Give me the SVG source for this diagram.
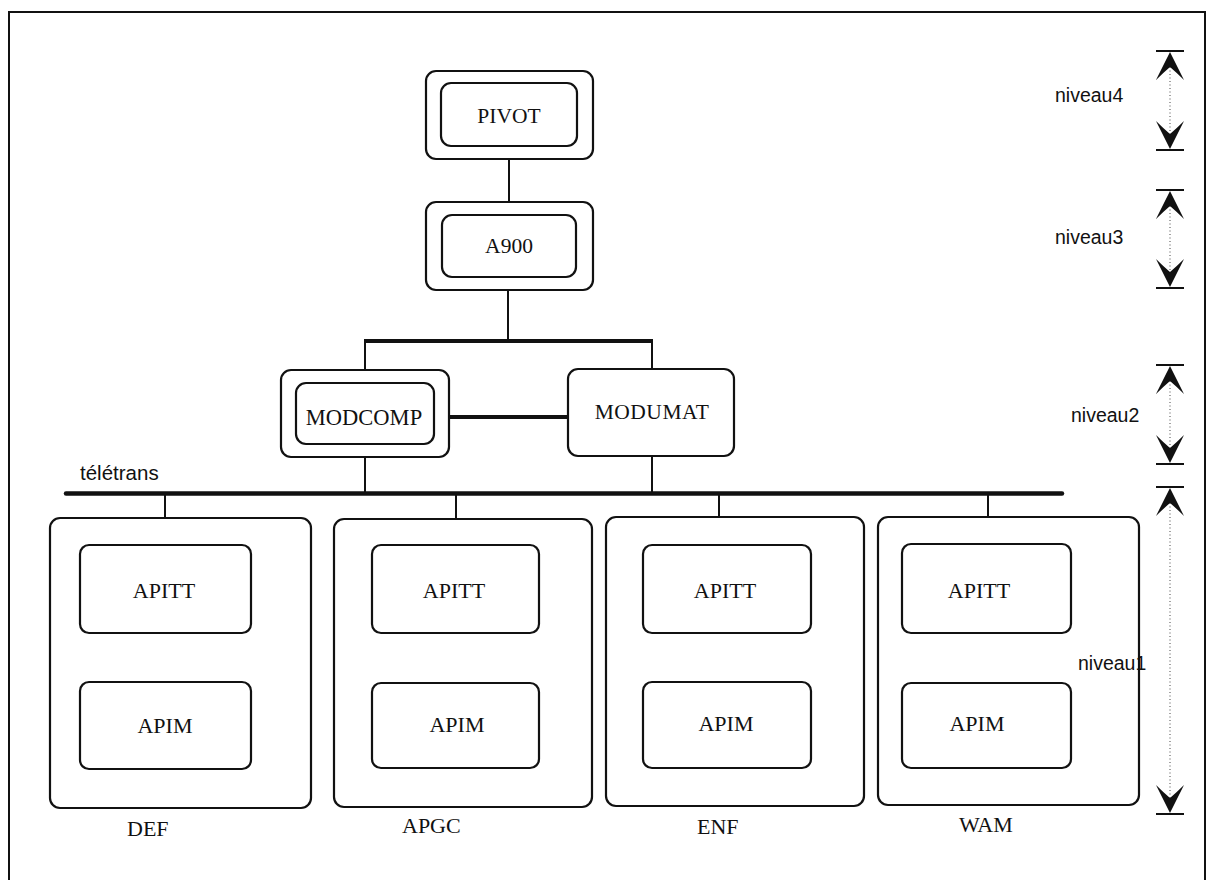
<svg xmlns="http://www.w3.org/2000/svg" xmlns:xlink="http://www.w3.org/1999/xlink" width="1218" height="880" viewBox="0 0 1218 880">
  <style>
    .box { fill: #fff; stroke: #111; stroke-width: 2.2; }
    .wire { fill: none; stroke: #111; stroke-width: 2; }
    .thick { fill: none; stroke: #111; stroke-width: 4; }
    .bus { fill: none; stroke: #111; stroke-width: 4.5; stroke-linecap: round; }
    .dots { fill: none; stroke: #444; stroke-width: 1; stroke-dasharray: 1 2.5; }
    .lbl { font-family: "Liberation Serif", "Times New Roman", serif; font-size: 21.5px; fill: #111; text-anchor: middle; }
    .cap { font-family: "Liberation Serif", "Times New Roman", serif; font-size: 22px; fill: #111; }
    .side { font-family: "Liberation Sans", Arial, sans-serif; font-size: 19.5px; fill: #111; }
    .frame { fill: none; stroke: #111; stroke-width: 2; }
  </style>
  <defs>
    <!-- level marker: bar plus stealth-style arrowhead pointing to it -->
    <g id="chevUp">
      <line x1="-14" y1="0" x2="14" y2="0" stroke="#111" stroke-width="2"/>
      <path d="M0,1 Q6,13 14,29 Q7,22 0,16 Q-7,22 -14,29 Q-6,13 0,1 Z" fill="#111"/>
    </g>
  </defs>

  <rect width="1218" height="880" fill="#fff"/>
  <rect class="frame" x="9" y="12" width="1196" height="900"/>

  <!-- connectors -->
  <g id="connectors">
    <line class="wire" x1="509" y1="159" x2="509" y2="202"/>
    <line class="wire" x1="508" y1="290" x2="508" y2="341"/>
    <line class="thick" x1="364" y1="341" x2="653" y2="341"/>
    <line class="wire" x1="365" y1="341" x2="365" y2="370"/>
    <line class="wire" x1="652" y1="341" x2="652" y2="369"/>
    <line class="thick" x1="449" y1="417" x2="568" y2="417"/>
    <line class="wire" x1="365" y1="457" x2="365" y2="494"/>
    <line class="wire" x1="652" y1="456" x2="652" y2="494"/>
    <line class="bus" x1="66" y1="493.5" x2="1062" y2="493.5"/>
    <line class="wire" x1="165" y1="494" x2="165" y2="545"/>
    <line class="wire" x1="456" y1="494" x2="456" y2="545"/>
    <line class="wire" x1="719" y1="494" x2="719" y2="545"/>
    <line class="wire" x1="988" y1="494" x2="988" y2="544"/>
    <line class="wire" x1="165" y1="633" x2="165" y2="682"/>
    <line class="wire" x1="456" y1="633" x2="456" y2="683"/>
    <line class="wire" x1="719" y1="633" x2="719" y2="682"/>
    <line class="wire" x1="987" y1="633" x2="987" y2="683"/>
  </g>

  <!-- level 4 -->
  <g id="pivot">
    <rect class="box" x="426" y="71" width="167" height="88" rx="10"/>
    <rect class="box" x="441" y="83" width="136" height="63" rx="10"/>
    <text class="lbl" x="509" y="123">PIVOT</text>
  </g>

  <!-- level 3 -->
  <g id="a900">
    <rect class="box" x="426" y="202" width="167" height="88" rx="10"/>
    <rect class="box" x="442" y="215" width="134" height="62" rx="10"/>
    <text class="lbl" x="509" y="253">A900</text>
  </g>

  <!-- level 2 -->
  <g id="modcomp">
    <rect class="box" x="281" y="370" width="168" height="87" rx="10"/>
    <rect class="box" x="296" y="383" width="138" height="61" rx="10"/>
    <text class="lbl" x="364" y="425" style="font-size:22.5px">MODCOMP</text>
  </g>
  <g id="modumat">
    <rect class="box" x="568" y="369" width="166" height="87" rx="10"/>
    <text class="lbl" x="652" y="419" style="letter-spacing:0.5px">MODUMAT</text>
  </g>

  <text id="teletrans" class="side" x="80" y="480" style="font-size:20.5px">télétrans</text>

  <!-- level 1 sites -->
  <g id="def">
    <rect class="box" x="50" y="518" width="261" height="290" rx="10"/>
    <rect class="box" x="80" y="545" width="171" height="88" rx="9"/>
    <rect class="box" x="80" y="682" width="171" height="87" rx="9"/>
    <text class="lbl" x="164" y="598" style="font-size:22px">APITT</text>
    <text class="lbl" x="165" y="733" style="font-size:22px">APIM</text>
    <text class="cap" x="127" y="836">DEF</text>
  </g>
  <g id="apgc">
    <rect class="box" x="334" y="519" width="258" height="288" rx="10"/>
    <rect class="box" x="372" y="545" width="167" height="88" rx="9"/>
    <rect class="box" x="372" y="683" width="167" height="85" rx="9"/>
    <text class="lbl" x="454" y="598" style="font-size:22px">APITT</text>
    <text class="lbl" x="457" y="732" style="font-size:22px">APIM</text>
    <text class="cap" x="402" y="833">APGC</text>
  </g>
  <g id="enf">
    <rect class="box" x="606" y="517" width="258" height="289" rx="10"/>
    <rect class="box" x="643" y="545" width="168" height="88" rx="9"/>
    <rect class="box" x="643" y="682" width="168" height="86" rx="9"/>
    <text class="lbl" x="725" y="598" style="font-size:22px">APITT</text>
    <text class="lbl" x="726" y="731" style="font-size:22px">APIM</text>
    <text class="cap" x="697" y="834">ENF</text>
  </g>
  <g id="wam">
    <rect class="box" x="878" y="517" width="261" height="288" rx="10"/>
    <rect class="box" x="902" y="544" width="169" height="89" rx="9"/>
    <rect class="box" x="902" y="683" width="169" height="85" rx="9"/>
    <text class="lbl" x="979" y="598" style="font-size:22px">APITT</text>
    <text class="lbl" x="977" y="731" style="font-size:22px">APIM</text>
    <text class="cap" x="959" y="832">WAM</text>
  </g>

  <!-- level scale on the right -->
  <g id="levels">
    <line class="dots" x1="1170" y1="67" x2="1170" y2="134"/>
    <use xlink:href="#chevUp" transform="translate(1170,51)"/>
    <use xlink:href="#chevUp" transform="translate(1170,150) scale(1,-1)"/>
    <text class="side" x="1055" y="102">niveau4</text>

    <line class="dots" x1="1170" y1="206" x2="1170" y2="272"/>
    <use xlink:href="#chevUp" transform="translate(1170,190)"/>
    <use xlink:href="#chevUp" transform="translate(1170,288) scale(1,-1)"/>
    <text class="side" x="1055" y="244">niveau3</text>

    <line class="dots" x1="1170" y1="381" x2="1170" y2="448"/>
    <use xlink:href="#chevUp" transform="translate(1170,365)"/>
    <use xlink:href="#chevUp" transform="translate(1170,464) scale(1,-1)"/>
    <text class="side" x="1071" y="422">niveau2</text>

    <line class="dots" x1="1170" y1="503" x2="1170" y2="798"/>
    <use xlink:href="#chevUp" transform="translate(1170,487)"/>
    <use xlink:href="#chevUp" transform="translate(1170,814) scale(1,-1)"/>
    <text class="side" x="1078" y="670">niveau1</text>
  </g>
</svg>
